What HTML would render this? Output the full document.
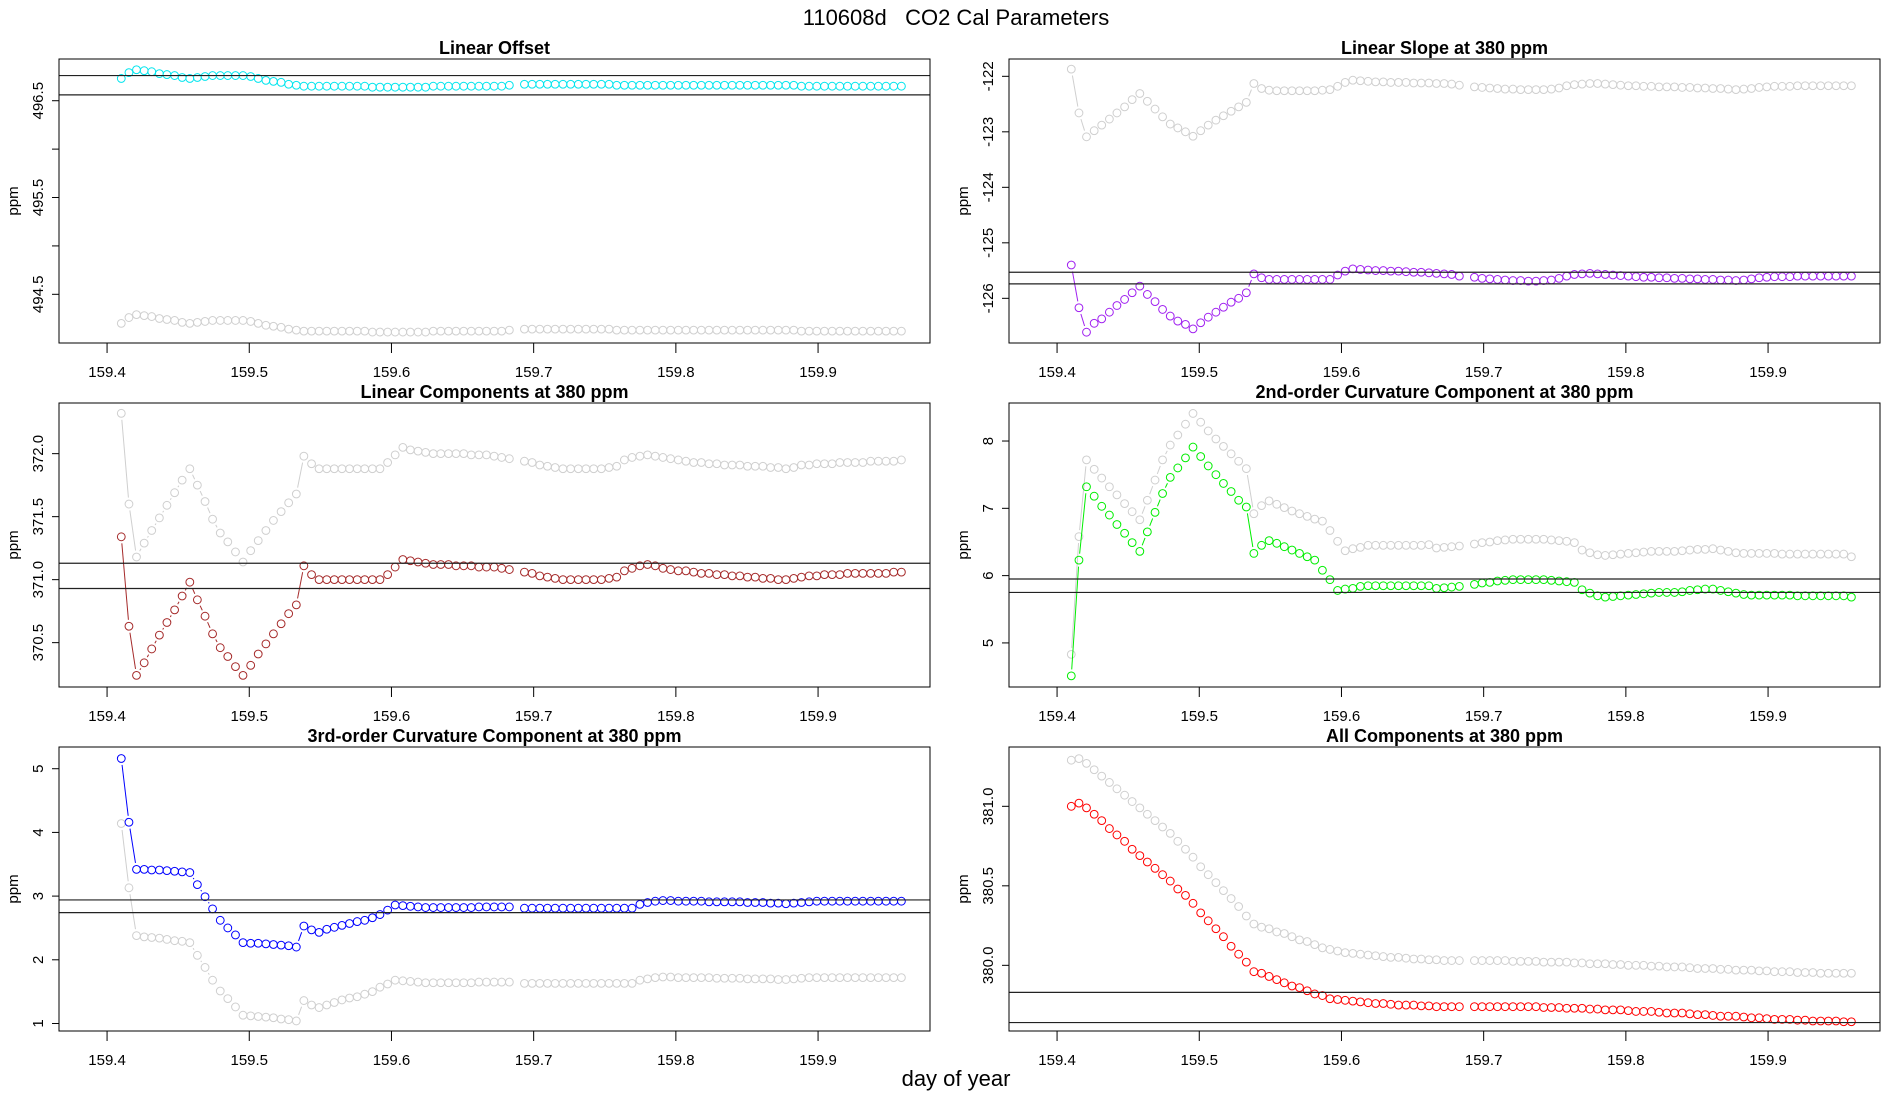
<!DOCTYPE html>
<html><head><meta charset="utf-8"><title>110608d CO2 Cal Parameters</title>
<style>
html,body{margin:0;padding:0;background:#fff;}
svg{display:block;font-family:"Liberation Sans",Arial,sans-serif;}
</style></head>
<body>
<svg id="chart" width="1900" height="1100" viewBox="0 0 1900 1100" xmlns="http://www.w3.org/2000/svg">
<rect width="1900" height="1100" fill="#fff"/>
<text x="956" y="25" font-size="22" text-anchor="middle" xml:space="preserve">110608d   CO2 Cal Parameters</text>
<text x="956" y="1086" font-size="22" text-anchor="middle">day of year</text>
</svg>
<script>
const days = [159.410,159.4154,159.4207,159.4261,159.4314,159.4368,159.4421,159.4475,159.4528,159.4582,159.4635,159.4689,159.4742,159.4796,159.4849,159.4903,159.4956,159.5010,159.5063,159.5117,159.5170,159.5224,159.5277,159.5331,159.5384,159.5438,159.5491,159.5545,159.5598,159.5652,159.5705,159.5759,159.5812,159.5866,159.5919,159.5973,159.6026,159.6080,159.6133,159.6187,159.6240,159.6294,159.6347,159.6401,159.6454,159.6508,159.6561,159.6615,159.6668,159.6722,159.6775,159.6829,
159.6935,159.6989,159.7043,159.7097,159.7151,159.7206,159.7260,159.7314,159.7368,159.7422,159.7476,159.7530,159.7584,159.7638,159.7692,159.7747,159.7801,159.7855,159.7909,159.7963,159.8017,159.8071,159.8125,159.8179,159.8233,159.8288,159.8342,159.8396,159.8450,159.8504,159.8558,159.8612,159.8666,159.8720,159.8774,159.8829,159.8883,159.8937,159.8991,159.9045,159.9099,159.9153,159.9207,159.9261,159.9315,159.9370,159.9424,159.9478,159.9532,159.9586];
const xTicks = [159.4,159.5,159.6,159.7,159.8,159.9];
const xTickLabels = ["159.4","159.5","159.6","159.7","159.8","159.9"];

const offsetCyan = [496.73,496.79,496.82,496.81,496.80,496.78,496.77,496.76,496.74,496.73,496.74,496.75,496.76,496.76,496.76,496.76,496.76,496.75,496.73,496.71,496.70,496.69,496.67,496.66,
496.65,496.65,496.65,496.65,496.65,496.65,496.65,496.65,496.65,496.64,496.64,496.64,496.64,496.64,496.64,496.64,496.64,496.65,496.65,496.65,496.65,496.65,496.65,496.65,496.65,496.65,496.65,496.66,
496.67,496.67,496.67,496.67,496.67,496.67,496.67,496.67,496.67,496.67,496.67,496.67,496.66,496.66,496.66,496.66,496.66,496.66,496.66,496.66,496.66,496.66,496.66,496.66,496.66,496.66,496.66,496.66,496.66,496.66,496.66,496.66,496.66,496.66,496.66,496.66,496.65,496.65,496.65,496.65,496.65,496.65,496.65,496.65,496.65,496.65,496.65,496.65,496.65,496.65,496.65,496.65,496.65,496.65];
const offsetGray = [494.20,494.26,494.29,494.28,494.27,494.25,494.24,494.23,494.21,494.20,494.21,494.22,494.23,494.23,494.23,494.23,494.23,494.22,494.20,494.18,494.17,494.16,494.14,494.13,
494.12,494.12,494.12,494.12,494.12,494.12,494.12,494.12,494.12,494.11,494.11,494.11,494.11,494.11,494.11,494.11,494.11,494.12,494.12,494.12,494.12,494.12,494.12,494.12,494.12,494.12,494.12,494.13,
494.14,494.14,494.14,494.14,494.14,494.14,494.14,494.14,494.14,494.14,494.14,494.14,494.13,494.13,494.13,494.13,494.13,494.13,494.13,494.13,494.13,494.13,494.13,494.13,494.13,494.13,494.13,494.13,494.13,494.13,494.13,494.13,494.13,494.13,494.13,494.13,494.12,494.12,494.12,494.12,494.12,494.12,494.12,494.12,494.12,494.12,494.12,494.12,494.12,494.12,494.12,494.12,494.12,494.12];
const offsetRefs = [496.76,496.56];
const offsetTicks = [494.5,495,495.5,496,496.5];
const offsetTickLabels = ["494.5","","495.5","","496.5"];

const slopeGray = [-121.87,-122.66,-123.09,-122.98,-122.88,-122.77,-122.66,-122.55,-122.42,-122.31,-122.45,-122.59,-122.73,-122.86,-122.93,-123.00,-123.08,-122.98,-122.88,-122.79,-122.71,-122.63,-122.55,-122.47,
-122.13,-122.22,-122.25,-122.26,-122.26,-122.26,-122.26,-122.26,-122.26,-122.25,-122.24,
-122.18,-122.11,-122.07,-122.08,-122.09,-122.10,-122.10,-122.11,-122.11,-122.11,-122.12,-122.12,-122.12,-122.13,-122.13,-122.14,-122.16,
-122.19,-122.20,-122.21,-122.22,-122.23,-122.23,-122.24,-122.24,-122.24,-122.24,-122.23,-122.21,-122.17,-122.15,-122.14,-122.13,-122.13,-122.14,-122.15,-122.16,-122.17,-122.17,-122.18,-122.18,-122.19,-122.19,-122.19,-122.20,-122.20,-122.21,-122.21,-122.22,-122.22,-122.23,-122.24,-122.23,-122.22,-122.20,-122.19,-122.18,-122.18,-122.18,-122.17,-122.17,-122.17,-122.17,-122.17,-122.17,-122.17,-122.17];
const slopePurple = [-125.40,-126.17,-126.61,-126.45,-126.37,-126.25,-126.13,-126.02,-125.90,-125.78,-125.93,-126.06,-126.20,-126.32,-126.41,-126.47,-126.55,-126.44,-126.34,-126.25,-126.16,-126.07,-126.00,-125.90,
-125.56,-125.63,-125.66,-125.66,-125.66,-125.66,-125.66,-125.66,-125.66,-125.66,-125.66,
-125.58,-125.51,-125.47,-125.48,-125.49,-125.50,-125.50,-125.51,-125.51,-125.52,-125.53,-125.53,-125.54,-125.55,-125.56,-125.57,-125.60,
-125.62,-125.64,-125.65,-125.66,-125.67,-125.68,-125.68,-125.69,-125.69,-125.68,-125.67,-125.64,-125.60,-125.57,-125.56,-125.55,-125.56,-125.57,-125.58,-125.59,-125.60,-125.61,-125.62,-125.62,-125.63,-125.63,-125.64,-125.64,-125.65,-125.65,-125.66,-125.66,-125.67,-125.67,-125.68,-125.67,-125.65,-125.63,-125.62,-125.61,-125.61,-125.61,-125.60,-125.60,-125.60,-125.60,-125.60,-125.60,-125.60,-125.60];
const slopeRefs = [-125.53,-125.74];
const slopeTicks = [-126,-125,-124,-123,-122];
const slopeTickLabels = ["-126","-125","-124","-123","-122"];

const linGray = [372.32,371.60,371.18,371.29,371.39,371.49,371.59,371.69,371.79,371.88,371.75,371.62,371.48,371.37,371.30,371.22,371.14,371.23,371.31,371.39,371.47,371.54,371.61,371.68,
371.98,371.92,371.88,371.88,371.88,371.88,371.88,371.88,371.88,371.88,371.88,
371.93,371.99,372.05,372.03,372.02,372.01,372.00,372.00,372.00,372.00,372.00,371.99,371.99,371.99,371.98,371.97,371.96,
371.94,371.93,371.91,371.90,371.89,371.88,371.88,371.88,371.88,371.88,371.88,371.89,371.90,371.95,371.97,371.98,371.99,371.98,371.97,371.96,371.95,371.94,371.93,371.93,371.92,371.92,371.91,371.91,371.91,371.90,371.90,371.90,371.89,371.89,371.88,371.89,371.91,371.91,371.92,371.92,371.92,371.93,371.93,371.93,371.93,371.94,371.94,371.94,371.94,371.95];
const linRed = [371.34,370.63,370.24,370.34,370.45,370.56,370.66,370.76,370.87,370.98,370.84,370.71,370.57,370.46,370.39,370.31,370.24,370.32,370.41,370.49,370.57,370.65,370.73,370.80,
371.11,371.04,371.00,371.00,371.00,371.00,371.00,371.00,371.00,371.00,371.00,
371.04,371.10,371.16,371.15,371.14,371.13,371.12,371.12,371.12,371.11,371.11,371.11,371.10,371.10,371.10,371.09,371.08,
371.06,371.05,371.03,371.02,371.01,371.00,371.00,371.00,371.00,371.00,371.00,371.01,371.02,371.07,371.09,371.11,371.12,371.11,371.09,371.08,371.07,371.07,371.06,371.05,371.05,371.04,371.04,371.03,371.03,371.02,371.02,371.01,371.01,371.00,371.00,371.01,371.02,371.03,371.03,371.04,371.04,371.04,371.05,371.05,371.05,371.05,371.05,371.05,371.06,371.06];
const linRefs = [371.13,370.93];
const linTicks = [370.5,371.0,371.5,372.0];
const linTickLabels = ["370.5","371.0","371.5","372.0"];

const curv2Gray = [4.83,6.58,7.72,7.58,7.45,7.32,7.20,7.07,6.95,6.83,7.12,7.42,7.72,7.94,8.09,8.25,8.41,8.28,8.15,8.03,7.92,7.81,7.70,7.59,
6.92,7.04,7.11,7.06,7.01,6.96,6.92,6.88,6.84,6.81,
6.67,6.51,6.37,6.40,6.42,6.45,6.45,6.45,6.45,6.45,6.45,6.45,6.45,6.46,6.41,6.42,6.43,6.44,
6.47,6.49,6.50,6.52,6.53,6.54,6.54,6.54,6.54,6.54,6.53,6.52,6.51,6.49,6.38,6.34,6.31,6.30,6.31,6.32,6.33,6.34,6.35,6.36,6.36,6.36,6.36,6.37,6.38,6.39,6.39,6.40,6.38,6.36,6.34,6.33,6.33,6.33,6.33,6.33,6.32,6.32,6.32,6.32,6.32,6.32,6.32,6.32,6.32,6.28];
const curv2Green = [4.51,6.23,7.32,7.18,7.03,6.90,6.76,6.63,6.49,6.36,6.65,6.94,7.22,7.46,7.60,7.75,7.91,7.77,7.63,7.50,7.37,7.25,7.12,7.02,
6.33,6.45,6.52,6.48,6.43,6.38,6.33,6.28,6.23,6.08,
5.94,5.78,5.80,5.81,5.84,5.85,5.85,5.85,5.85,5.85,5.85,5.85,5.85,5.85,5.81,5.82,5.83,5.84,
5.87,5.89,5.90,5.92,5.93,5.94,5.94,5.94,5.94,5.94,5.93,5.92,5.91,5.90,5.79,5.74,5.70,5.68,5.69,5.70,5.71,5.72,5.73,5.74,5.75,5.75,5.75,5.76,5.78,5.79,5.80,5.80,5.78,5.76,5.74,5.72,5.71,5.71,5.71,5.71,5.71,5.71,5.70,5.70,5.70,5.70,5.70,5.70,5.70,5.68];
const curv2Refs = [5.95,5.75];
const curv2Ticks = [5,6,7,8];
const curv2TickLabels = ["5","6","7","8"];

const curv3Blue = [5.16,4.16,3.42,3.42,3.41,3.41,3.40,3.39,3.38,3.37,3.18,2.99,2.80,2.62,2.50,2.39,2.27,2.26,2.26,2.25,2.24,2.23,2.22,2.20,
2.53,2.47,2.43,2.48,2.51,2.54,2.57,2.60,2.62,2.66,2.71,
2.78,2.86,2.85,2.84,2.83,2.82,2.82,2.82,2.82,2.82,2.82,2.82,2.83,2.83,2.83,2.83,2.83,
2.81,2.81,2.81,2.81,2.81,2.81,2.81,2.81,2.81,2.81,2.81,2.81,2.81,2.81,2.81,2.87,2.90,2.92,2.93,2.93,2.92,2.92,2.92,2.92,2.91,2.91,2.91,2.91,2.91,2.90,2.90,2.90,2.89,2.89,2.88,2.89,2.90,2.91,2.92,2.92,2.92,2.92,2.92,2.92,2.92,2.92,2.92,2.92,2.92,2.92];
const curv3Gray = [4.14,3.13,2.38,2.36,2.35,2.34,2.32,2.30,2.29,2.27,2.07,1.88,1.68,1.51,1.39,1.26,1.13,1.12,1.11,1.10,1.09,1.07,1.06,1.04,
1.36,1.29,1.25,1.29,1.33,1.37,1.40,1.42,1.46,1.50,1.57,
1.62,1.68,1.67,1.66,1.65,1.64,1.64,1.64,1.64,1.64,1.64,1.64,1.65,1.65,1.65,1.65,1.65,
1.63,1.63,1.63,1.63,1.63,1.63,1.63,1.63,1.63,1.63,1.63,1.63,1.63,1.63,1.63,1.68,1.70,1.72,1.73,1.73,1.72,1.72,1.72,1.72,1.72,1.71,1.71,1.71,1.71,1.70,1.70,1.70,1.70,1.69,1.69,1.70,1.71,1.72,1.72,1.72,1.72,1.72,1.72,1.72,1.72,1.72,1.72,1.72,1.72,1.72];
const curv3Refs = [2.94,2.74];
const curv3Ticks = [1,2,3,4,5];
const curv3TickLabels = ["1","2","3","4","5"];

const allGray = [381.29,381.30,381.27,381.23,381.19,381.15,381.11,381.07,381.03,380.99,380.95,380.91,380.87,380.83,380.78,380.73,380.68,380.62,380.57,380.52,380.47,380.42,380.37,380.31,
380.26,380.24,380.23,380.21,380.20,380.18,380.16,380.15,380.13,380.11,380.10,380.09,380.08,
380.075,380.07,380.065,380.06,380.055,380.05,380.05,380.045,380.04,380.04,380.035,380.035,380.03,380.03,380.03,
380.03,380.03,380.03,380.03,380.03,380.025,380.025,380.025,380.025,380.02,380.02,380.02,380.02,380.015,380.015,380.01,380.01,380.01,380.005,380.005,380.00,380.00,380.00,379.995,379.995,379.99,379.99,379.99,379.985,379.98,379.98,379.98,379.975,379.975,379.97,379.97,379.97,379.965,379.965,379.96,379.96,379.96,379.955,379.955,379.955,379.95,379.95,379.95,379.95,379.95];
const allRed = [381.00,381.02,380.99,380.95,380.91,380.86,380.82,380.78,380.73,380.69,380.65,380.61,380.57,380.53,380.48,380.44,380.39,380.33,380.28,380.23,380.18,380.12,380.07,380.02,
379.96,379.95,379.93,379.91,379.89,379.87,379.86,379.84,379.82,379.81,379.79,
379.785,379.78,379.775,379.77,379.765,379.76,379.76,379.755,379.75,379.75,379.75,379.745,379.745,379.74,379.74,379.74,379.74,
379.74,379.74,379.74,379.74,379.74,379.74,379.74,379.74,379.74,379.735,379.735,379.735,379.73,379.73,379.73,379.725,379.725,379.72,379.72,379.72,379.715,379.71,379.71,379.71,379.705,379.70,379.70,379.70,379.695,379.69,379.69,379.685,379.68,379.68,379.68,379.675,379.67,379.67,379.665,379.66,379.66,379.66,379.655,379.655,379.65,379.65,379.65,379.65,379.645,379.645];
const allRefs = [379.83,379.64];
const allTicks = [380.0,380.5,381.0];
const allTickLabels = ["380.0","380.5","381.0"];

const NS = "http://www.w3.org/2000/svg";
const svg = document.getElementById("chart");
function mk(tag, attrs, parent){
  const e = document.createElementNS(NS, tag);
  for (const k in attrs) e.setAttribute(k, attrs[k]);
  (parent||svg).appendChild(e);
  return e;
}
const BOX_W = 871, BOX_H = 284;
const X_DOMAIN = [159.3662, 159.3662 + 871/1422];

const panels = [
 {key:"linear-offset", title:"Linear Offset", col:0, row:0, dom:[493.997,496.931], ticks:offsetTicks, labels:offsetTickLabels, refs:offsetRefs,
  series:[{name:"offset-gray",v:offsetGray,c:"#cfcfcf"},{name:"offset-cyan",v:offsetCyan,c:"#00e5ee"}]},
 {key:"linear-slope", title:"Linear Slope at 380 ppm", col:1, row:0, dom:[-126.805,-121.688], ticks:slopeTicks, labels:slopeTickLabels, refs:slopeRefs,
  series:[{name:"slope-gray",v:slopeGray,c:"#cfcfcf"},{name:"slope-purple",v:slopePurple,c:"#a020f0"}]},
 {key:"linear-components", title:"Linear Components at 380 ppm", col:0, row:1, dom:[370.148,372.402], ticks:linTicks, labels:linTickLabels, refs:linRefs,
  series:[{name:"linear-gray",v:linGray,c:"#cfcfcf"},{name:"linear-brown",v:linRed,c:"#a52a2a"}]},
 {key:"curvature-2nd", title:"2nd-order Curvature Component at 380 ppm", col:1, row:1, dom:[4.345,8.565], ticks:curv2Ticks, labels:curv2TickLabels, refs:curv2Refs,
  series:[{name:"curv2-gray",v:curv2Gray,c:"#cfcfcf"},{name:"curv2-green",v:curv2Green,c:"#00ee00"}]},
 {key:"curvature-3rd", title:"3rd-order Curvature Component at 380 ppm", col:0, row:2, dom:[0.882,5.341], ticks:curv3Ticks, labels:curv3TickLabels, refs:curv3Refs,
  series:[{name:"curv3-gray",v:curv3Gray,c:"#cfcfcf"},{name:"curv3-blue",v:curv3Blue,c:"#0000ff"}]},
 {key:"all-components", title:"All Components at 380 ppm", col:1, row:2, dom:[379.587,381.373], ticks:allTicks, labels:allTickLabels, refs:allRefs,
  series:[{name:"all-gray",v:allGray,c:"#cfcfcf"},{name:"all-red",v:allRed,c:"#ff0000"}]}
];

const ROW_TOP = [59, 403, 747];
const COL_LEFT = [59, 1009];
const R = 3.9, GAP = 6.5;

panels.forEach(p => {
  const L = COL_LEFT[p.col], T = ROW_TOP[p.row], Rr = L + BOX_W, B = T + BOX_H;
  const xs = v => L + (v - X_DOMAIN[0]) / (X_DOMAIN[1] - X_DOMAIN[0]) * BOX_W;
  const ys = v => B - (v - p.dom[0]) / (p.dom[1] - p.dom[0]) * BOX_H;
  const g = mk("g", {});
  
  

  const t = mk("text", {x:(L+Rr)/2, y:T-5, "font-size":18, "font-weight":"bold", "text-anchor":"middle"}, g);
  t.textContent = p.title;
  
  

  const xa = mk("g", {}, g);
  
  
  xTicks.forEach((tv, i) => {
    const x = xs(tv);
    mk("line", {x1:x, y1:B, x2:x, y2:B+10, stroke:"#000", "stroke-width":1}, xa);
    const tl = mk("text", {x:x, y:B+34, "font-size":15, "text-anchor":"middle"}, xa);
    tl.textContent = xTickLabels[i];
    
    
  });
  const ya = mk("g", {}, g);
  
  
  p.ticks.forEach((tv, i) => {
    const y = ys(tv);
    mk("line", {x1:L-7, y1:y, x2:L, y2:y, stroke:"#000", "stroke-width":1}, ya);
    if (p.labels[i]) {
      const tl = mk("text", {x:L-16, y:y, "font-size":15, "text-anchor":"middle", transform:`rotate(-90 ${L-16} ${y})`}, ya);
      tl.textContent = p.labels[i];
      
      
    }
  });
  const yl = mk("text", {x:L-41, y:(T+B)/2, "font-size":15, "text-anchor":"middle", transform:`rotate(-90 ${L-41} ${(T+B)/2})`}, g);
  yl.textContent = "ppm";
  
  

  p.series.forEach(s => {
    const sg = mk("g", {}, g);
    
    
    const pts = days.map((d, i) => [xs(d), ys(s.v[i])]);
    for (let i = 1; i < pts.length; i++) {
      const [x1,y1] = pts[i-1], [x2,y2] = pts[i];
      const dx = x2-x1, dy = y2-y1, len = Math.hypot(dx,dy);
      if (len > 2*GAP + 1 && (days[i]-days[i-1]) < 0.008) {
        const ux = dx/len, uy = dy/len;
        mk("line", {x1:x1+ux*GAP, y1:y1+uy*GAP, x2:x2-ux*GAP, y2:y2-uy*GAP, stroke:s.c, "stroke-width":1}, sg);
      }
    }
    pts.forEach(([x,y]) => {
      const c = mk("circle", {cx:x, cy:y, r:R, fill:"none", stroke:s.c, "stroke-width":1}, sg);
      
      
    });
  });

  p.refs.forEach(rv => {
    const ln = mk("line", {x1:L, x2:Rr, y1:ys(rv), y2:ys(rv), stroke:"#222", "stroke-width":1.2}, g);
    
    
  });

  const box = mk("rect", {x:L, y:T, width:BOX_W, height:BOX_H, fill:"none", stroke:"#000", "stroke-width":1}, g);
  
  
});
</script>
</body></html>
